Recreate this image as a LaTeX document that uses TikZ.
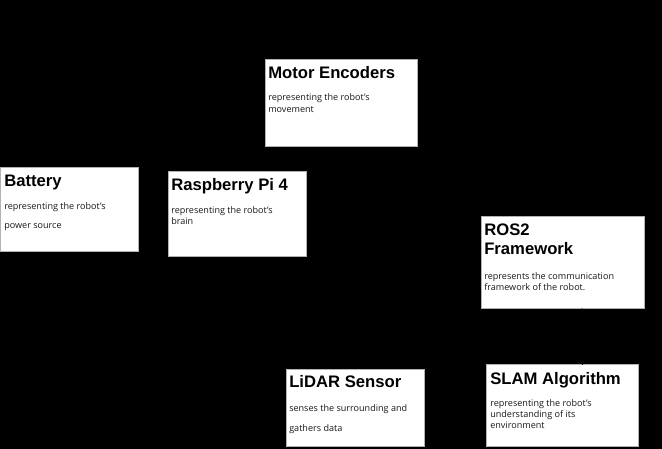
\documentclass[tikz,border=0pt]{standalone}
\usepackage{fontspec}
\setmainfont{Liberation Sans}
\newfontfamily\bodyfont{Open Sans}
\usetikzlibrary{arrows.meta}
\begin{document}
\begin{tikzpicture}[x=0.75pt,y=-0.75pt,
  box/.style={draw=gray!60,line width=0.75pt,fill=white,inner sep=0pt,outer sep=0pt,anchor=north west},
  ttl/.style={anchor=base west,inner sep=0pt,font=\fontsize{12.5pt}{14pt}\selectfont\bfseries,text=black},
  bdy/.style={anchor=base west,inner sep=0pt,font=\bodyfont\fontsize{6.8pt}{8pt}\selectfont,text=black!90},
  conn/.style={draw=black,line width=0.75pt,-{Stealth[length=5pt,width=4pt]}}]
\fill[black] (0,0) rectangle (662,449);
\useasboundingbox (0,0) rectangle (662,449);
% boxes
\node[box,minimum width=152*0.75pt,minimum height=87*0.75pt] (motor) at (265,60) {};
\node[box,minimum width=138*0.75pt,minimum height=84*0.75pt] (battery) at (0,168) {};
\node[box,minimum width=138*0.75pt,minimum height=85*0.75pt] (rpi) at (168,172) {};
\node[box,minimum width=163*0.75pt,minimum height=92*0.75pt] (ros) at (481,217) {};
\node[box,minimum width=138*0.75pt,minimum height=77*0.75pt] (lidar) at (286,370) {};
\node[box,minimum width=152*0.75pt,minimum height=82*0.75pt] (slam) at (486,365) {};
% titles
\node[ttl] (motorT) at (268,79) {Motor Encoders};
\node[ttl] (batteryT) at (4,187) {Battery};
\node[ttl] (rpiT) at (171,191) {Raspberry Pi 4};
\node[ttl] (rosT1) at (484,236) {ROS2};
\node[ttl] (rosT2) at (484,255) {Framework};
\node[ttl] (lidarT) at (289,388) {LiDAR Sensor};
\node[ttl] (slamT) at (490,385) {SLAM Algorithm};
% bodies
\node[bdy] (motorB1) at (268,101) {representing the robot’s};
\node[bdy] (motorB2) at (268,112.5) {movement};
\node[bdy] (batteryB1) at (4,210) {representing the robot’s};
\node[bdy] (batteryB2) at (4,229) {power source};
\node[bdy] (rpiB1) at (171,214) {representing the robot’s};
\node[bdy] (rpiB2) at (171,225) {brain};
\node[bdy] (rosB1) at (484,280) {represents the communication};
\node[bdy] (rosB2) at (484,291) {framework of the robot.};
\node[bdy] (lidarB1) at (289,412) {senses the surrounding and};
\node[bdy] (lidarB2) at (289,431.5) {gathers data};
\node[bdy] (slamB1) at (490,406.5) {representing the robot’s};
\node[bdy] (slamB2) at (490,417.5) {understanding of its};
\node[bdy] (slamB3) at (490,429) {environment};
% connector (black on black)
\draw[conn] (slam.north -| 582,0) -- ([yshift=0.75pt]ros.south -| 582,0);
\end{tikzpicture}
\end{document}
